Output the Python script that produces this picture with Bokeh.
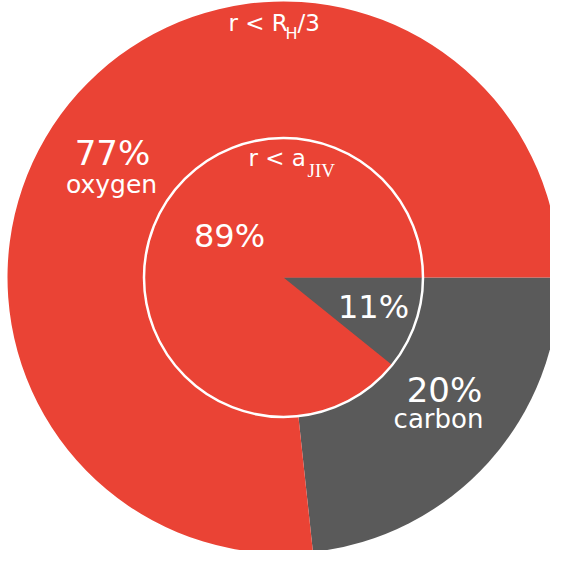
import numpy as np
from bokeh.plotting import figure
from bokeh.models import Range1d, Label
from bokeh.embed import file_html
from bokeh.resources import INLINE

# ---- data ----
elements = ["carbon", "oxygen"]          # clockwise from 3 o'clock
outer_values = [23.3, 76.7]              # r < R_H/3 (slice sizes as drawn)
inner_values = [10.8, 89.2]              # r < a_JIV
outer_labels = ["20%", "77%"]
inner_labels = ["11%", "89%"]
colors = ["#5A5A5A", "#EA4335"]

W = H = 550
p = figure(width=W, height=H, output_backend="svg", toolbar_location=None,
           x_range=Range1d(0, 550), y_range=Range1d(0, 550), min_border=0)
p.axis.visible = False
p.grid.visible = False
p.outline_line_color = None
p.background_fill_color = "white"

CX, CY = 283, 550 - 277
R_OUT, R_IN = 276, 139.5


def wedges(values):
    v = np.array(values, dtype=float)
    frac = v / v.sum()
    cum = np.concatenate([[0], np.cumsum(frac)]) * 2 * np.pi
    return -cum[1:], -cum[:-1]


s, e = wedges(outer_values)
p.wedge(x=CX, y=CY, radius=R_OUT, start_angle=s, end_angle=e, color=colors,
        line_color=None, direction="anticlock")
s, e = wedges(inner_values)
p.wedge(x=CX, y=CY, radius=R_IN, start_angle=s, end_angle=e, color=colors,
        line_color=None, direction="anticlock")
p.circle(x=[CX], y=[CY], radius=R_IN, fill_color=None, line_color="white",
         line_width=2.5)

FONT = "DejaVu Sans"


def lab(x, y, text, size, align="center", font=FONT):
    # y: target baseline in picture pixels; small correction for renderer offset
    off = 0.4 * size - 1
    p.add_layout(Label(x=x, y=550 - (y - off), text=text, text_font=font,
                       text_font_size=f"{size}px", text_color="white",
                       text_align=align, text_baseline="alphabetic"))


lab(112, 165, outer_labels[1], 34)
lab(111, 193, elements[1], 25)
lab(444, 402, outer_labels[0], 34)
lab(438, 428, elements[0], 26)
lab(229, 247, inner_labels[1], 32)
lab(373, 318, inner_labels[0], 32)

lab(228, 31, "r < R", 23, "left")
lab(285, 38, "H", 16, "left")
lab(297, 31, "/3", 23, "left")
lab(248, 166, "r < a", 23, "left")
lab(307, 177, "JIV", 19, "left", font="Liberation Serif")

open("out.html", "w").write(file_html(p, INLINE))
